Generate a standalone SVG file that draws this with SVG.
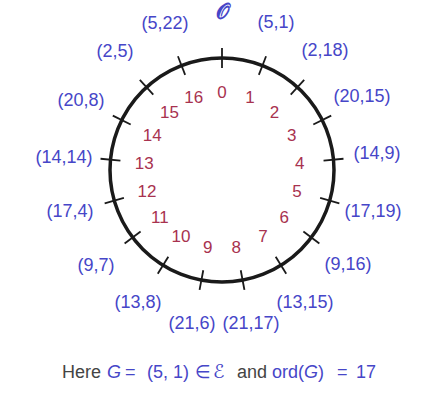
<svg xmlns="http://www.w3.org/2000/svg" width="430" height="400" viewBox="0 0 430 400">
<style>
.num{font-family:"Liberation Sans","DejaVu Sans",sans-serif;font-size:17px;fill:#a8324f;text-anchor:middle}
.pt{font-family:"Liberation Sans","DejaVu Sans",sans-serif;font-size:18px;fill:#4646c8;text-anchor:middle}
.tk{stroke:#1a1a1a;stroke-width:1.8}
.cap{font-family:"Liberation Sans","DejaVu Sans",sans-serif;font-size:18px;fill:#444}
.b{fill:#4646c8}
</style>
<rect width="430" height="400" fill="#ffffff"/>
<g id="curve">
<circle cx="222" cy="170" r="112" fill="none" stroke="#1a1a1a" stroke-width="3.5"/>
</g>
<g id="ticks">
<line class="tk" x1="222" y1="48" x2="222" y2="68" transform="rotate(0 222 170)"/>
<line class="tk" x1="222" y1="48" x2="222" y2="68" transform="rotate(21.176 222 170)"/>
<line class="tk" x1="222" y1="48" x2="222" y2="68" transform="rotate(42.353 222 170)"/>
<line class="tk" x1="222" y1="48" x2="222" y2="68" transform="rotate(63.529 222 170)"/>
<line class="tk" x1="222" y1="48" x2="222" y2="68" transform="rotate(84.706 222 170)"/>
<line class="tk" x1="222" y1="48" x2="222" y2="68" transform="rotate(105.882 222 170)"/>
<line class="tk" x1="222" y1="48" x2="222" y2="68" transform="rotate(127.059 222 170)"/>
<line class="tk" x1="222" y1="48" x2="222" y2="68" transform="rotate(148.235 222 170)"/>
<line class="tk" x1="222" y1="48" x2="222" y2="68" transform="rotate(169.412 222 170)"/>
<line class="tk" x1="222" y1="48" x2="222" y2="68" transform="rotate(190.588 222 170)"/>
<line class="tk" x1="222" y1="48" x2="222" y2="68" transform="rotate(211.765 222 170)"/>
<line class="tk" x1="222" y1="48" x2="222" y2="68" transform="rotate(232.941 222 170)"/>
<line class="tk" x1="222" y1="48" x2="222" y2="68" transform="rotate(254.118 222 170)"/>
<line class="tk" x1="222" y1="48" x2="222" y2="68" transform="rotate(275.294 222 170)"/>
<line class="tk" x1="222" y1="48" x2="222" y2="68" transform="rotate(296.471 222 170)"/>
<line class="tk" x1="222" y1="48" x2="222" y2="68" transform="rotate(317.647 222 170)"/>
<line class="tk" x1="222" y1="48" x2="222" y2="68" transform="rotate(338.824 222 170)"/>
</g>
<g id="indices">
<text class="num" x="222" y="98">0</text>
<text class="num" x="250" y="103">1</text>
<text class="num" x="274.5" y="118">2</text>
<text class="num" x="291.8" y="141">3</text>
<text class="num" x="299.7" y="169">4</text>
<text class="num" x="297" y="197">5</text>
<text class="num" x="284.2" y="223">6</text>
<text class="num" x="263.1" y="242">7</text>
<text class="num" x="236.3" y="253">8</text>
<text class="num" x="207.7" y="253">9</text>
<text class="num" x="180.9" y="242">10</text>
<text class="num" x="159.8" y="223">11</text>
<text class="num" x="147" y="197">12</text>
<text class="num" x="144.3" y="169">13</text>
<text class="num" x="152.2" y="141">14</text>
<text class="num" x="169.5" y="118">15</text>
<text class="num" x="193.8" y="103">16</text>
</g>
<g id="points">
<text class="pt" x="222" y="19" style="font-family:'DejaVu Sans','DejaVu Serif',sans-serif;font-size:21px;font-weight:bold">𝒪</text>
<text class="pt" x="276" y="28">(5,1)</text>
<text class="pt" x="325" y="56">(2,18)</text>
<text class="pt" x="362" y="102">(20,15)</text>
<text class="pt" x="377" y="159">(14,9)</text>
<text class="pt" x="373" y="217">(17,19)</text>
<text class="pt" x="348" y="270">(9,16)</text>
<text class="pt" x="305" y="308">(13,15)</text>
<text class="pt" x="251" y="329">(21,17)</text>
<text class="pt" x="192" y="329">(21,6)</text>
<text class="pt" x="138" y="308">(13,8)</text>
<text class="pt" x="96" y="271">(9,7)</text>
<text class="pt" x="70" y="217">(17,4)</text>
<text class="pt" x="64" y="163">(14,14)</text>
<text class="pt" x="81" y="106">(20,8)</text>
<text class="pt" x="115" y="57">(2,5)</text>
<text class="pt" x="165" y="29">(5,22)</text>
</g>
<g id="caption">
<text class="cap" y="378"><tspan x="62">Here</tspan><tspan class="b" x="107" font-style="italic">G</tspan><tspan class="b" x="125">=</tspan><tspan class="b" x="147">(5, 1)</tspan><tspan class="b" x="195">∈</tspan><tspan class="b" x="213" style="font-family:'DejaVu Sans',sans-serif;font-size:19px">ℰ</tspan><tspan x="237">and</tspan><tspan class="b" x="272">ord(<tspan font-style="italic">G</tspan>)</tspan><tspan class="b" x="337">=</tspan><tspan class="b" x="356">17</tspan></text>
</g>
</svg>
